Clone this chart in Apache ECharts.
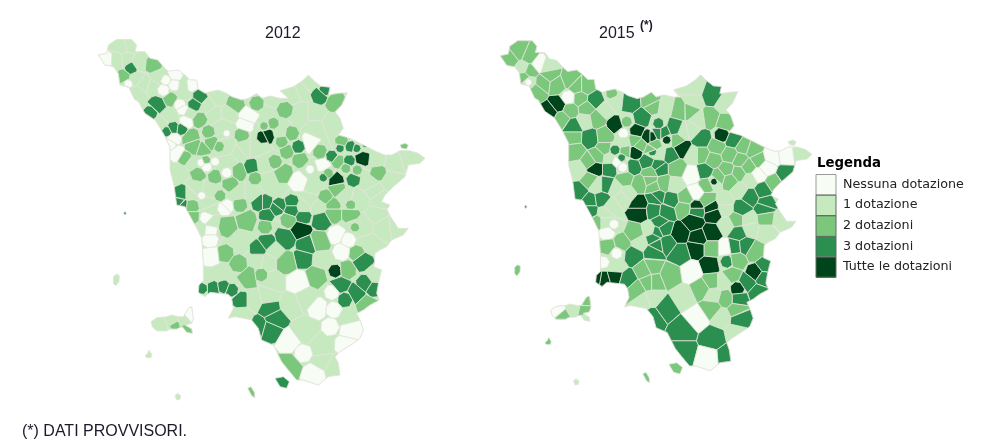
<!DOCTYPE html>
<html><head><meta charset="utf-8">
<style>html,body{margin:0;padding:0;background:#fff}#c{width:1001px;height:442px}</style>
<script src="https://cdn.jsdelivr.net/npm/echarts@6/dist/echarts.min.js"></script>
</head><body><div id="c"></div>
<script>
// ---------- categories / legend ----------
const classLabels = ['Nessuna dotazione','1 dotazione','2 dotazioni','3 dotazioni','Tutte le dotazioni'];
const classColors = ['#f7fcf5','#c7e9c0','#7bc87c','#2b8f4f','#00441b'];

// ---------- geography: Tuscany coastline / border (map units, four sheets) ----------
const borderNW = [[10,75],[35,70],[40,45],[65,28],[110,28],[125,45],[120,65],[150,65],[165,85],[188,90],[210,115],[222,125],[250,120],[270,135],[285,150],[305,150],[310,180],[330,190],[345,185],[370,180],[395,190],[410,200],[440,210],[460,205],[485,190],[500,205]];
const borderNE = [[30,198],[60,205],[85,205],[60,182],[100,170],[130,150],[145,135],[165,155],[185,170],[210,172],[205,195],[235,190],[262,188],[245,225],[225,245],[240,265],[250,295],[235,315],[270,325],[310,345],[350,365],[375,375],[395,375],[420,362],[450,362],[475,370],[495,385],[480,400],[445,405],[435,440],[400,470],[375,495],[365,515],[390,525],[380,540]];
const borderSE = [[395,40],[415,70],[445,70],[430,90],[395,105],[380,125],[360,135],[345,145],[342,185],[365,195],[355,235],[350,265],[358,285],[330,300],[310,315],[290,325],[300,345],[310,375],[300,400],[280,415],[240,440],[225,455],[235,475],[240,510],[205,515],[175,540],[130,525],[110,525],[85,495],[65,470],[50,440],[40,420],[5,405]];
const borderSW = [[490,370],[470,345],[420,335],[400,340],[415,310],[410,280],[400,268],[345,262],[330,275],[310,262],[312,240],[325,228],[325,170],[320,100],[300,60],[270,5]];
const borderNW2 = [[245,525],[238,470],[225,420],[225,350],[205,310],[180,270],[150,250],[130,215],[118,208],[100,170],[75,165],[70,130],[55,110],[30,105]];

const elba = [[168,350],[185,338],[215,335],[230,330],[250,335],[265,335],[280,310],[290,305],[295,340],[290,355],[270,360],[290,372],[292,385],[275,382],[262,365],[245,372],[225,372],[215,378],[185,378],[172,365]];
const capraia = [[55,215],[65,207],[73,212],[72,230],[62,242],[55,235]];
const gorgona = [[86,22],[92,20],[94,27],[88,30]];
const pianosa = [[150,452],[158,445],[162,435],[170,448],[168,458],[155,458]];
const montecristo = [[240,572],[248,565],[257,572],[255,583],[245,585]];
const giglio = [[458,550],[468,545],[478,562],[480,578],[470,572]];
const argentario = [[45,520],[70,515],[88,530],[80,550],[60,545]];
const exclave = [[420,345],[435,340],[445,345],[440,357],[425,355]];

// ---------- 2012: municipality centres (x, y, optional extent) and classes ----------
const cells2012NW = [[80,50],[105,45],[30,88,22],[70,90],[92,88],[108,115,15],[88,140,20],[175,105,22],[130,100],[120,145],
[100,162,10],[150,165],[130,190],[170,170],[190,140],[205,180,14],[212,150,12],[240,135,18],[238,165,14],[290,165,16],
[265,168],[225,208,18],[190,225,26],[165,250,18],[315,200,18],[298,225,16],[255,225,14],[262,238,14],[220,255],[195,278],
[235,295,16],[260,298,14],[215,305,12],[275,275,18],[285,250],[312,270,20],[340,225],[370,205],[360,250],[420,222,24],
[485,220,18],[460,258,28],[450,285,22],[440,315,18],[400,250],[385,290],[395,310,8],[505,320,16],[350,340,18],[340,305,16],
[285,320,25],[295,350,22],[325,360,20],[235,325,20],[225,342,14],[245,370,22],[372,350,13],[270,385,18],[332,392,12],[318,398,9],
[335,410,12],[360,395,10],[400,360],[425,370],[480,350],[405,390],[470,410,20],[430,425,24],[395,428,12],[480,445,16],
[405,460,20],[310,430,20],[360,440,18],[255,425],[260,490,22],[252,520,16],[290,530,18],[320,497,9],[375,497,14],[395,530,18],
[435,525,18],[495,520,22],[300,475],[350,480],[430,490],[470,490],[340,525],[285,490],[450,350],[290,400]];
const values2012NW = [1,1,0,1,1,3,2,2,1,1,
0,1,1,1,1,0,0,0,0,0,
1,2,3,3,3,3,0,0,1,1,
3,3,3,0,1,2,1,1,1,2,
2,0,0,2,1,1,0,4,2,2,
2,2,2,0,0,0,2,2,2,0,
0,0,1,1,1,1,3,2,0,2,
2,2,2,1,3,3,2,0,2,0,
2,3,1,1,1,1,1,1,1,1];
const cells2012NE = [[100,190],[180,197,22],[225,215,28],[195,180,14],[75,240,20],[125,180],[145,160],[120,250],[170,250],[210,280],
[20,315,24],[40,280,14],[12,288,10],[150,340,28],[95,310,18],[115,350,16],[80,365,18],[65,335,15],[45,395,17],[120,390,20],
[70,430,25],[115,455,25],[150,418,10],[190,405,25],[180,365,18],[245,335,17],[240,355,10],[215,378,14],[235,395,18],[272,350,14],
[268,392,14],[290,355,10],[305,385,22],[315,345,6],[205,430,12],[225,450,22],[230,478,22],[280,450,17],[292,420,12],[258,415,12],
[190,443,10],[355,428,20],[400,400],[350,390],[450,385],[390,450],[340,480],[300,510],[360,510],[197,500,18],
[220,525,18],[272,525,12],[160,470],[150,510],[15,520,22],[58,525,18],[95,515,18],[130,530],[250,500],[170,295],
[60,305],[10,405],[25,450],[175,530],[330,460]];
const values2012NE = [1,3,2,3,2,1,1,1,1,1,
4,2,2,0,2,3,2,2,2,2,
2,0,0,0,2,2,3,3,2,3,
3,3,4,3,2,4,2,3,2,2,
3,2,1,1,1,1,1,1,1,2,
2,2,1,1,3,3,3,1,1,1,
1,1,1,1,1];
const cells2012SW = [[260,3,20],[290,35,25],[335,38,16],[345,12],[345,75,18],[345,105,20],[350,150,30],[390,145,22],[395,60,30],[390,10,18],
[455,45,38],[440,105],[490,130,22],[430,175,22],[465,215,42],[490,165],[375,210],[320,250,14],[355,250,18],[385,245,16],
[410,255,16],[437,285,22],[475,285],[440,330],[490,365,30],[318,72],[350,52]];
const values2012SW = [3,2,0,1,0,0,0,2,2,0,
2,1,3,2,2,1,1,3,3,3,
3,3,1,1,3,1,1];
const cells2012SE = [[50,10,18],[95,15,18],[20,30,20],[130,35,20],[85,45,20],[185,45,28],[120,72,32],[220,25,26],[270,25,25],[230,90,24],
[15,65,18],[20,112,24],[75,100,30],[140,122,28],[130,160,27],[180,110,40],[80,172,30],[115,230,38],[170,212,36],[225,198,16],
[260,195,24],[305,165,30],[290,145,20],[265,105,18],[245,140,22],[240,240,28],[255,285,18],[290,265,28],[315,235,22],[342,252,20],
[345,212],[320,297,28],[215,262,18],[175,310,28],[222,315,20],[210,365,22],[260,335],[270,375,32],[260,420,30],[45,340,42],
[30,375,35],[30,310,35],[90,410,38],[130,445,22],[90,480,42],[165,505,38],[180,430],[185,470],[220,490],[130,380],
[140,280],[90,300],[185,165],[40,230],[20,170],[42,135],[3,210,16],[25,275],[330,120],[310,60],
[370,65],[350,30],[285,67,11],[410,60]];
const values2012SE = [3,3,3,3,2,3,4,2,2,0,
2,3,3,3,3,2,2,0,2,4,
2,3,2,0,0,3,3,3,3,3,
1,2,0,0,0,0,1,0,0,3,
3,3,0,0,2,0,1,1,1,1,
1,1,1,1,1,1,2,1,1,1,
1,1,2,1];
const cellsElba2012 = [[195,360],[232,348],[240,362,12],[275,372],[285,330],[268,345]];
const valuesElba2012 = [1,1,2,2,0,1];
// capraia, gorgona, pianosa, montecristo, giglio, argentario, exclave
const valuesIslands2012 = [1,3,1,1,2,3,2];

// ---------- 2015 ----------
const cells2015NW = [[85,65],[60,85],[100,115],[145,100,25],[120,80],[118,122],[100,140],[115,157,8],[175,110],[180,135],
[160,160],[140,185],[200,165],[235,203,17],[240,150],[260,170],[290,170],[270,205],[315,210],[205,225],
[180,245],[240,240],[215,265],[290,235],[285,272],[320,265],[250,290],[250,322],[300,325],[365,190,14],
[345,240],[375,215],[420,220],[485,215],[455,265],[380,285,25],[410,275,13],[400,310,12],[440,305,22],[475,320,18],
[505,310],[345,320],[345,355],[255,362],[300,395],[322,380],[375,360,12],[405,365],[437,368,17],[435,330],
[470,395],[495,345],[487,365,10],[380,395,16],[398,412,11],[395,383,9],[430,410],[505,408],[315,415,22],[265,420],
[360,415],[405,445],[450,460],[480,430],[490,470],[350,465],[300,450],[320,465],[265,485],[300,515],
[335,510],[375,475],[400,500],[450,525],[495,505],[360,530],[410,490],[400,335],[450,345],[360,385]];
const values2015NW = [2,2,1,0,2,2,2,0,1,2,
2,2,2,0,2,2,2,2,3,4,
4,2,2,2,1,2,3,2,3,2,
1,1,3,2,3,4,2,0,4,4,
3,2,2,2,2,2,3,2,4,2,
3,2,3,0,0,3,3,3,4,1,
3,2,2,2,2,3,2,1,3,3,
3,1,1,4,3,1,1,1,2,1];
const cells2015NE = [[187,195],[130,175],[225,220],[130,215],[180,265],[225,280],[145,270],[90,240],[120,240],[45,230],
[10,225],[215,315,18],[155,328],[250,330],[25,280,13],[75,295],[40,310],[50,330,10],[5,320,12],[95,355],
[100,305],[125,300],[130,375],[60,375],[30,370],[5,360],[80,330],[155,375],[200,350],[190,390],
[240,375],[230,420],[280,350],[270,390],[310,360],[325,390],[295,410],[240,450],[265,430],[205,440],
[165,425],[125,435],[140,487],[170,465,20],[192,455,8],[365,380],[410,375],[350,412],[325,435],[408,435],
[370,460],[300,450],[395,495],[450,370],[300,500],[340,480],[350,520],[170,510],[225,515],[30,415],
[80,415],[75,465],[40,460],[20,500],[65,510],[105,505],[140,530,16],[185,535],[270,480],[0,450]];
const values2015NE = [3,1,1,1,2,2,1,2,2,1,
2,4,3,3,3,3,3,4,4,4,
1,1,1,3,1,2,2,2,2,2,
2,2,2,2,2,2,2,2,2,2,
3,0,0,2,4,0,0,0,0,3,
2,1,1,1,3,3,3,2,1,3,
2,1,2,3,3,2,4,4,1,2];
const cells2015SW = [[300,15],[345,22],[320,55],[350,82,20],[372,58,11],[355,125],[395,115],[380,145,13],[340,172,14],[378,185],
[345,55],[435,85],[450,112],[480,75],[430,150],[490,100],[490,140],[465,195],[340,225],[375,215],
[322,222],[410,225],[437,255],[480,230],[460,290],[490,335],[450,20],[490,15]];
const values2015SW = [3,1,2,0,0,2,2,0,0,1,
1,2,1,1,3,3,3,2,4,4,
4,3,2,2,1,3,4,3];
const cells2015SE = [[10,15],[50,20],[30,55],[140,15],[100,8],[190,25],[130,50],[90,85],[185,85],[145,100],
[140,130],[180,180],[225,130,27],[185,130],[230,60],[225,10],[275,10],[345,10],[350,40],[260,45],
[295,45],[300,70],[265,85],[350,80],[390,45],[255,125],[285,122],[230,170,15],[260,165],[315,140],
[245,210],[315,203,24],[345,180],[340,220],[292,232],[262,252,17],[265,280],[325,262],[228,280],[220,230],
[185,230],[125,200],[155,250],[60,210],[10,230],[10,280],[100,275],[190,270],[185,310],[215,335],
[260,315],[270,340],[45,310],[140,340],[100,375],[100,440],[190,400],[230,455],[175,460],[260,385],
[20,120],[50,115],[90,145],[20,80],[5,185],[40,70]];
const values2015SE = [3,3,3,3,2,4,4,4,4,4,
4,4,0,2,1,1,3,3,2,2,
1,1,3,1,1,3,3,3,2,2,
2,4,3,3,3,4,3,3,2,1,
2,0,2,2,2,1,1,1,2,1,
2,3,3,0,3,3,3,3,0,1,
3,3,3,3,2,3];
const cellsElba2015 = [[205,320],[215,332],[250,310],[288,285],[285,318],[288,340]];
const valuesElba2015 = [0,2,1,2,2,1];
const valuesIslands2015 = [2,3,2,1,2,2,1];

// ---------- geometry helpers ----------
const sheet = (ox, oy, pts) => pts.map(p => {
  const q = [ox + p[0]/3, oy + p[1]/3];
  if (p.length > 2) q.push(p[2]/3);
  return q;
});
const toRight = p => [500 + 0.954*(p[0]-98), 40.7 + 0.9546*(p[1]-39.3)];

const mainland = [].concat(sheet(95,30,borderNW), sheet(260,30,borderNE), sheet(260,205,borderSE),
                           sheet(95,205,borderSW), sheet(95,30,borderNW2));
const islandRings = [sheet(95,205,capraia), sheet(95,205,gorgona), sheet(95,205,pianosa), sheet(95,205,montecristo),
                     sheet(95,205,giglio), sheet(260,205,argentario), sheet(260,30,exclave)];
const elbaRing = sheet(95,205,elba);

function clip(poly, a, b, c) {
  const out = [];
  for (let i = 0; i < poly.length; i++) {
    const p = poly[i], q = poly[(i+1) % poly.length];
    const dp = a*p[0] + b*p[1] - c, dq = a*q[0] + b*q[1] - c;
    if (dp <= 0) out.push(p);
    if ((dp < 0 && dq > 0) || (dp > 0 && dq < 0)) {
      const t = dp / (dp - dq);
      out.push([p[0] + t*(q[0]-p[0]), p[1] + t*(q[1]-p[1])]);
    }
  }
  return out;
}
function cellOf(ring, seeds, i, reach) {
  const s = seeds[i];
  let poly = ring;
  seeds.forEach((o, j) => {
    if (j === i || !poly.length) return;
    const a = o[0]-s[0], b = o[1]-s[1];
    poly = clip(poly, a, b, a*(s[0]+o[0])/2 + b*(s[1]+o[1])/2);
  });
  if (reach) {
    const R = (s.length > 2 ? s[2] : reach) * 1.2;
    // an angular seven-sided limit, turned differently per cell, so patches read as municipalities
    for (let k = 0; k < 7 && poly.length; k++) {
      const t = k*2*Math.PI/7 + s[0] + s[1], a = Math.cos(t), b = Math.sin(t);
      poly = clip(poly, a, b, a*s[0] + b*s[1] + R);
    }
  }
  return poly;
}
// class-1 territory is the ground layer; every other class is laid over it
function layer(add, ring, seeds, values, reach) {
  const one = seeds.filter((s, i) => values[i] === 1);
  one.forEach((s, i) => add(cellOf(ring, one, i, 0), 1));
  seeds.forEach((s, i) => { if (values[i] !== 1) add(cellOf(ring, seeds, i, reach), values[i]); });
}
function buildMap(name, ring, elbaR, islands, seeds, values, elbaSeeds, elbaValues, islandValues, reach) {
  const features = [], data = [];
  const add = (poly, v) => {
    if (poly.length < 3) return;
    const id = 'c' + features.length;
    const coords = poly.map(p => [p[0], -p[1]]);
    coords.push(coords[0]);
    features.push({type:'Feature', properties:{name:id}, geometry:{type:'Polygon', coordinates:[coords]}});
    data.push({name:id, value:v});
  };
  layer(add, ring, seeds, values, reach);
  layer(add, elbaR, elbaSeeds, elbaValues, 40);
  islands.forEach((r, i) => add(r, islandValues[i]));
  echarts.registerMap(name, {type:'FeatureCollection', features});
  let x0=1e9,x1=-1e9,y0=1e9,y1=-1e9;
  features.forEach(f => f.geometry.coordinates[0].forEach(c => {
    x0=Math.min(x0,c[0]); x1=Math.max(x1,c[0]); y0=Math.min(y0,-c[1]); y1=Math.max(y1,-c[1]);
  }));
  return {data, box:{left:x0, top:y0, width:x1-x0, height:y1-y0}};
}

const m2012 = buildMap('toscana2012', mainland, elbaRing, islandRings,
  [].concat(sheet(95,30,cells2012NW), sheet(260,30,cells2012NE), sheet(95,205,cells2012SW), sheet(260,205,cells2012SE)),
  [].concat(values2012NW, values2012NE, values2012SW, values2012SE),
  sheet(95,205,cellsElba2012), valuesElba2012, valuesIslands2012, 14);
const m2015 = buildMap('toscana2015', mainland.map(toRight), elbaRing.map(toRight), islandRings.map(r => r.map(toRight)),
  [].concat(sheet(490,30,cells2015NW), sheet(650,30,cells2015NE), sheet(490,205,cells2015SW), sheet(650,205,cells2015SE)),
  [].concat(values2015NW, values2015NE, values2015SW, values2015SE),
  sheet(490,205,cellsElba2015), valuesElba2015, valuesIslands2015, 16);

const mapSeries = (map, m) => Object.assign({
  type:'map', map, aspectScale:1, roam:false, silent:true, selectedMode:false, animation:false,
  label:{show:false}, emphasis:{disabled:true},
  itemStyle:{borderColor:'#e3e3da', borderWidth:0.8},
  data:m.data
}, m.box);

const txt = '#1a1a2a';
const legendTop = 174.5, legendStep = 20.6;
const chart = echarts.init(document.getElementById('c'), null, {renderer:'canvas'});
chart.setOption({
  animation:false,
  backgroundColor:'#fff',
  title:[
    {text:'2012', left:265, top:26, textStyle:{fontFamily:'Liberation Sans', fontSize:16, fontWeight:'normal', color:txt}, padding:0},
    {text:'2015', left:599, top:26, textStyle:{fontFamily:'Liberation Sans', fontSize:16, fontWeight:'normal', color:txt}, padding:0},
    {text:'(*)', left:640, top:20, textStyle:{fontFamily:'Liberation Sans', fontSize:12, fontWeight:'bold', color:txt}, padding:0},
    {text:'(*) DATI PROVVISORI.', left:22, top:424, textStyle:{fontFamily:'Liberation Sans', fontSize:16, fontWeight:'normal', color:txt}, padding:0},
    {text:'Legenda', left:817, top:157, textStyle:{fontFamily:'DejaVu Sans', fontSize:13.3, fontWeight:'bold', color:'#000'}, padding:0}
  ],
  visualMap:{
    type:'piecewise', seriesIndex:[0,1], orient:'vertical', inverse:true,
    left:816, top:legendTop, padding:0, itemWidth:20, itemHeight:20, itemGap:legendStep-20, itemSymbol:'rect', textGap:7,
    hoverLink:false, selectedMode:false, align:'left',
    textStyle:{fontFamily:'DejaVu Sans', fontSize:12.7, color:'#222'},
    pieces:classLabels.map((label,i)=>({value:i, label, color:classColors[i]}))
  },
  graphic:classLabels.map((label,i)=>({
    type:'rect', z:100, silent:true,
    shape:{x:816, y:legendTop + i*legendStep, width:20, height:legendStep},
    style:{fill:'none', stroke:i===0?'#9a9a9a':'#5f6b62', lineWidth:1}
  })),
  series:[mapSeries('toscana2012', m2012), mapSeries('toscana2015', m2015)]
});
</script></body></html>
